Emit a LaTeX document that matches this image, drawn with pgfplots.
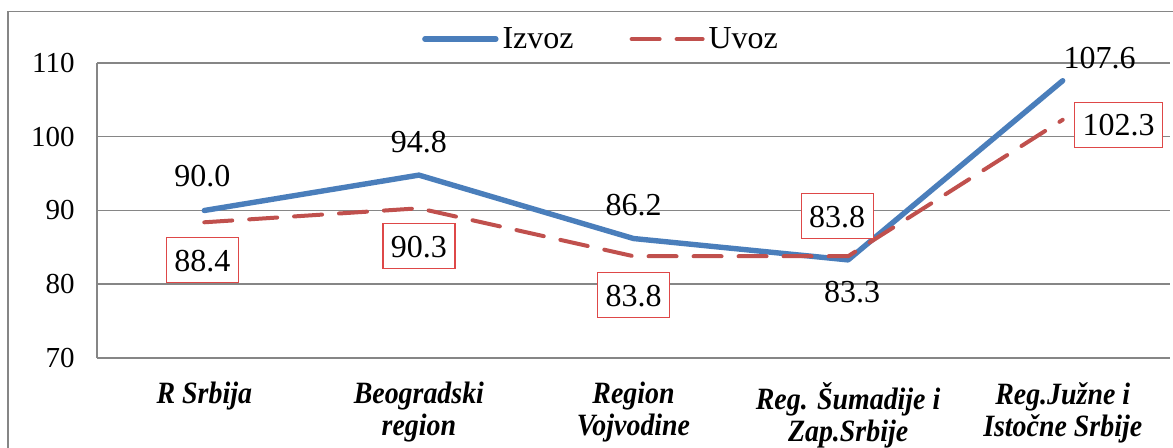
\documentclass[border=0pt]{standalone}
\usepackage{fontspec}
\setmainfont{Liberation Serif}
\newfontfamily\catfont{Liberation Serif}[FakeStretch=0.9]
\usepackage{pgfplots}
\pgfplotsset{compat=1.18}
\definecolor{izv}{RGB}{74,126,187}
\definecolor{uvz}{RGB}{192,80,77}
\definecolor{grd}{RGB}{134,134,134}
\definecolor{boxred}{RGB}{222,72,72}
\tikzset{
  dl/.style={font=\fontsize{16}{18}\selectfont, text height=11pt, text depth=0pt, inner sep=0pt},
  bl/.style={dl, draw=boxred, line width=0.6pt, inner xsep=4pt, inner ysep=5.75pt, fill=white}
}
\begin{document}
\begin{tikzpicture}
\useasboundingbox (-48.5pt,-45pt) rectangle (538pt,179pt);
\draw[grd, line width=0.75pt] (-44.5pt,-60pt) -- (-44.5pt,173.25pt) -- (560pt,173.25pt);
\begin{axis}[
  at={(0pt,0pt)}, anchor=south west,
  scale only axis, width=536.5pt, height=147.5pt,
  xmin=-0.5, xmax=4.5, ymin=70, ymax=110,
  xtick={0,1,2,3,4},
  xticklabels={{R Srbija},{Beogradski\\region},{Region\\Vojvodine},{Reg. Šumadije i\\Zap.Srbije},{Reg.Južne i\\Istočne Srbije}},
  ytick={70,80,90,100,110},
  axis lines*=left,
  axis line style={grd, line width=0.75pt},
  ymajorgrids,
  major grid style={grd, line width=0.75pt},
  major tick length=0pt,
  tick style={draw=none},
  /pgf/number format/assume math mode=true,
  yticklabel style={font=\fontsize{14.5}{16}\selectfont, inner sep=0pt, xshift=-11pt},
  xticklabel style={font=\catfont\fontsize{15.5}{16}\selectfont\bfseries\itshape, align=center, inner sep=0pt, yshift=-12pt},
  clip=false,
  legend style={at={(0.4707,1.081)}, anchor=center, draw=none, fill=none,
    legend columns=2, font=\fontsize{16}{18}\selectfont,
    /tikz/every even column/.append style={column sep=26pt}},
  legend image code/.code={\draw[#1] (0pt,0pt) -- (35.5pt,0pt);},
]
\addplot[izv, line width=2.7pt, line cap=round, line join=round] coordinates {(0,90.0)(1,94.8)(2,86.2)(3,83.3)(4,107.6)};
\addlegendentry{Izvoz}
\addplot[uvz, line width=2pt, line cap=round, line join=round, dash pattern=on 14pt off 8.5pt] coordinates {(0,88.4)(1,90.3)(2,83.8)(3,83.8)(4,102.3)};
\addlegendentry{Uvoz}

\node[dl, xshift=-1pt, yshift=17.5pt] at (axis cs:0,90.0) {90.0};
\node[dl, yshift=17pt] at (axis cs:1,94.8) {94.8};
\node[dl, yshift=17pt] at (axis cs:2,86.2) {86.2};
\node[dl, xshift=2pt, yshift=-16pt] at (axis cs:3,83.3) {83.3};
\node[dl, xshift=18.5pt, yshift=11.5pt] at (axis cs:4,107.6) {107.6};

\node[bl, xshift=-1pt, yshift=-19pt] at (axis cs:0,88.4) {88.4};
\node[bl, yshift=-19pt] at (axis cs:1,90.3) {90.3};
\node[bl, yshift=-19.5pt] at (axis cs:2,83.8) {83.8};
\node[bl, xshift=-5.5pt, yshift=20pt] at (axis cs:3,83.8) {83.8};
\node[bl, xshift=28pt, yshift=-2.5pt] at (axis cs:4,102.3) {102.3};
\end{axis}
\end{tikzpicture}
\end{document}
